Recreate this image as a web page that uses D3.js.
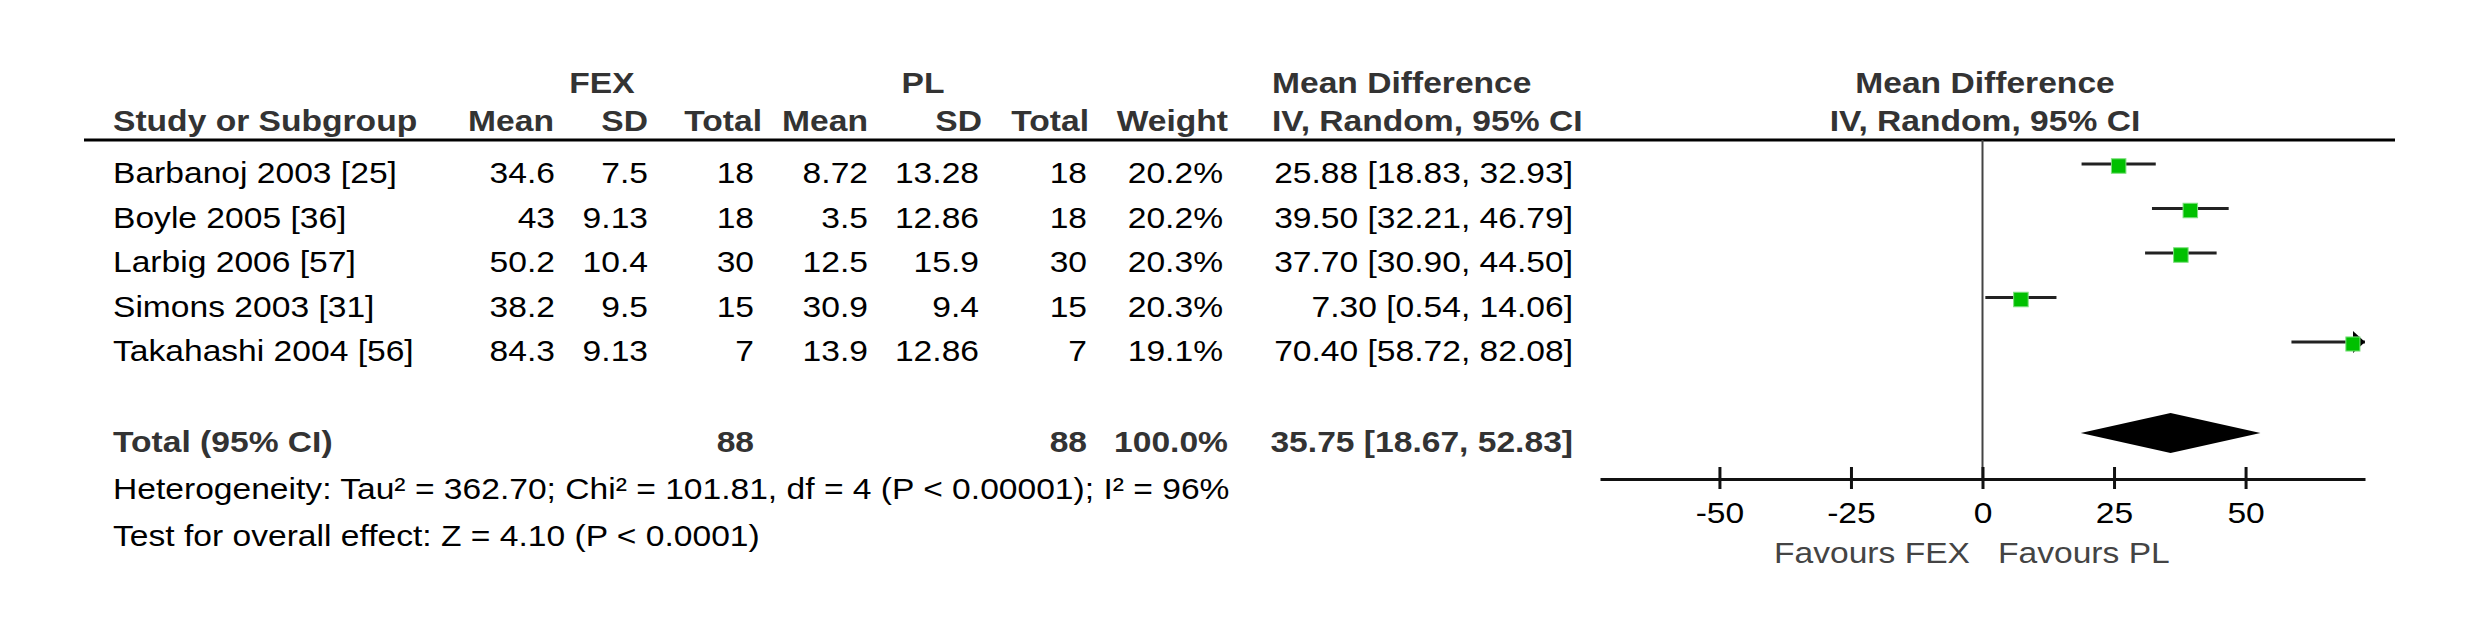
<!DOCTYPE html>
<html>
<head>
<meta charset="utf-8">
<script src="https://cdn.jsdelivr.net/npm/d3@7"></script>
<style>
  body { margin: 0; background: #fff; }
  text { font-family: "Liberation Sans", Arial, sans-serif; }
</style>
</head>
<body>
<div id="forest"></div>
<script>
let width = 2472;
let height = 632;

// data
const studies = ["Barbanoj 2003 [25]", "Boyle 2005 [36]", "Larbig 2006 [57]", "Simons 2003 [31]", "Takahashi 2004 [56]"];
const fexMean = ["34.6", "43", "50.2", "38.2", "84.3"];
const fexSD = ["7.5", "9.13", "10.4", "9.5", "9.13"];
const fexTotal = [18, 18, 30, 15, 7];
const plMean = ["8.72", "3.5", "12.5", "30.9", "13.9"];
const plSD = ["13.28", "12.86", "15.9", "9.4", "12.86"];
const plTotal = [18, 18, 30, 15, 7];
const weights = [20.2, 20.2, 20.3, 20.3, 19.1];
const md = [25.88, 39.50, 37.70, 7.30, 70.40];
const mdLow = [18.83, 32.21, 30.90, 0.54, 58.72];
const mdHigh = [32.93, 46.79, 44.50, 14.06, 82.08];

const totalMD = 35.75, totalLow = 18.67, totalHigh = 52.83;
const tickValues = [-50, -25, 0, 25, 50];
const heterogeneity = "Heterogeneity: Tau² = 362.70; Chi² = 101.81, df = 4 (P < 0.00001); I² = 96%";
const overall = "Test for overall effect: Z = 4.10 (P < 0.0001)";

let svg = d3.select("#forest")
    .append("svg")
    .attr("width", width)
    .attr("height", height);

const fs = 30;
const sx = 1.12;   // text in the picture is a bit wide

function txt(x, y, s, anchor, bold, color) {
    return svg.append("text")
        .attr("transform", `translate(${x},${y}) scale(${sx},1)`)
        .attr("text-anchor", anchor)
        .attr("font-size", fs)
        .attr("font-weight", bold ? "bold" : "normal")
        .attr("fill", color || "#000")
        .text(s);
}

const fmt2 = d3.format(".2f");

let scaleX = d3.scaleLinear()
    .domain([-72.7, 72.7])
    .range([1600, 2365]);

let scaleY = d3.scalePoint()
    .domain(studies)
    .range([183, 361]);

const totalY = 452;
const markOff = -19;
const axisY = 479;

// header
const hd = "#333";
txt(602, 93, "FEX", "middle", true, hd);
txt(923, 93, "PL", "middle", true, hd);
txt(1272, 93, "Mean Difference", "start", true, hd);
txt(1985, 93, "Mean Difference", "middle", true, hd);

txt(113, 131, "Study or Subgroup", "start", true, hd);
const headCols = [["Mean", 554], ["SD", 648], ["Total", 762], ["Mean", 868], ["SD", 982], ["Total", 1089], ["Weight", 1228]];
headCols.forEach(c => txt(c[1], 131, c[0], "end", true, hd));
txt(1272, 131, "IV, Random, 95% CI", "start", true, hd);
txt(1985, 131, "IV, Random, 95% CI", "middle", true, hd);

svg.append("line")
    .attr("x1", 84).attr("x2", 2395)
    .attr("y1", 140).attr("y2", 140)
    .attr("stroke", "#000")
    .attr("stroke-width", 3);

// table rows
const valCols = [
    [fexMean, 555], [fexSD, 648], [fexTotal, 754],
    [plMean, 868], [plSD, 979], [plTotal, 1087],
    [weights.map(w => w.toFixed(1) + "%"), 1223],
    [md.map((m, i) => `${fmt2(m)} [${fmt2(mdLow[i])}, ${fmt2(mdHigh[i])}]`), 1573]
];

studies.forEach((s, i) => {
    let y = scaleY(s);
    txt(113, y, s, "start", false);
    valCols.forEach(c => txt(c[1], y, c[0][i], "end", false));
});

// total row
txt(113, totalY, "Total (95% CI)", "start", true, hd);
txt(754, totalY, d3.sum(fexTotal), "end", true, hd);
txt(1087, totalY, d3.sum(plTotal), "end", true, hd);
txt(1228, totalY, "100.0%", "end", true, hd);
txt(1573, totalY, `${fmt2(totalMD)} [${fmt2(totalLow)}, ${fmt2(totalHigh)}]`, "end", true, hd);

txt(113, 499, heterogeneity, "start", false);
txt(113, 546, overall, "start", false);

// zero line
svg.append("line")
    .attr("x1", scaleX(0)).attr("x2", scaleX(0))
    .attr("y1", 140).attr("y2", axisY)
    .attr("stroke", "#444")
    .attr("stroke-width", 2);

// axis
let axis = svg.append("g")
    .attr("transform", "translate(0," + axisY + ")")
    .call(d3.axisBottom(scaleX)
        .tickValues(tickValues)
        .tickFormat(d => String(d))
        .tickSizeOuter(0));
axis.select(".domain").attr("stroke", "#111").attr("stroke-width", 3);
axis.selectAll(".tick line")
    .attr("y1", -12).attr("y2", 10)
    .attr("stroke", "#111").attr("stroke-width", 3);
axis.selectAll(".tick text")
    .attr("y", 0).attr("dy", null)
    .attr("transform", `translate(0,44) scale(${sx},1)`)
    .attr("font-size", fs)
    .attr("font-family", "Liberation Sans, Arial, sans-serif")
    .attr("fill", "#000");

txt(1970, 563, "Favours FEX", "end", false, "#444");
txt(1998, 563, "Favours PL", "start", false, "#444");

// confidence intervals
const [lo, hi] = scaleX.domain();
studies.forEach((s, i) => {
    let y = scaleY(s) + markOff;
    let a = Math.max(mdLow[i], lo), b = Math.min(mdHigh[i], hi);
    svg.append("line")
        .attr("x1", scaleX(a)).attr("x2", scaleX(b))
        .attr("y1", y).attr("y2", y)
        .attr("stroke", "#222")
        .attr("stroke-width", 3);
    if (mdHigh[i] > hi) {
        let t = scaleX(hi);
        svg.append("path")
            .attr("d", `M${t},${y} L${t - 12},${y - 11} L${t - 12},${y + 11} Z`)
            .attr("fill", "#000");
    }
});

// squares
let side = d3.scaleSqrt().domain([0, 20.2]).range([0, 14.5]);
svg.selectAll("rect.study")
    .data(studies)
    .join("rect")
    .attr("class", "study")
    .attr("x", (d, i) => scaleX(md[i]) - side(weights[i]) / 2)
    .attr("y", (d, i) => scaleY(d) + markOff + 2 - side(weights[i]) / 2)
    .attr("width", (d, i) => side(weights[i]))
    .attr("height", (d, i) => side(weights[i]))
    .attr("fill", "#00c000")
    .attr("stroke", "#7ee07e")
    .attr("stroke-width", 1);

// diamond
let dy = totalY + markOff;
svg.append("path")
    .attr("d", `M${scaleX(totalLow)},${dy} L${scaleX(totalMD)},${dy - 20} L${scaleX(totalHigh)},${dy} L${scaleX(totalMD)},${dy + 20} Z`)
    .attr("fill", "#000");
</script>
</body>
</html>
